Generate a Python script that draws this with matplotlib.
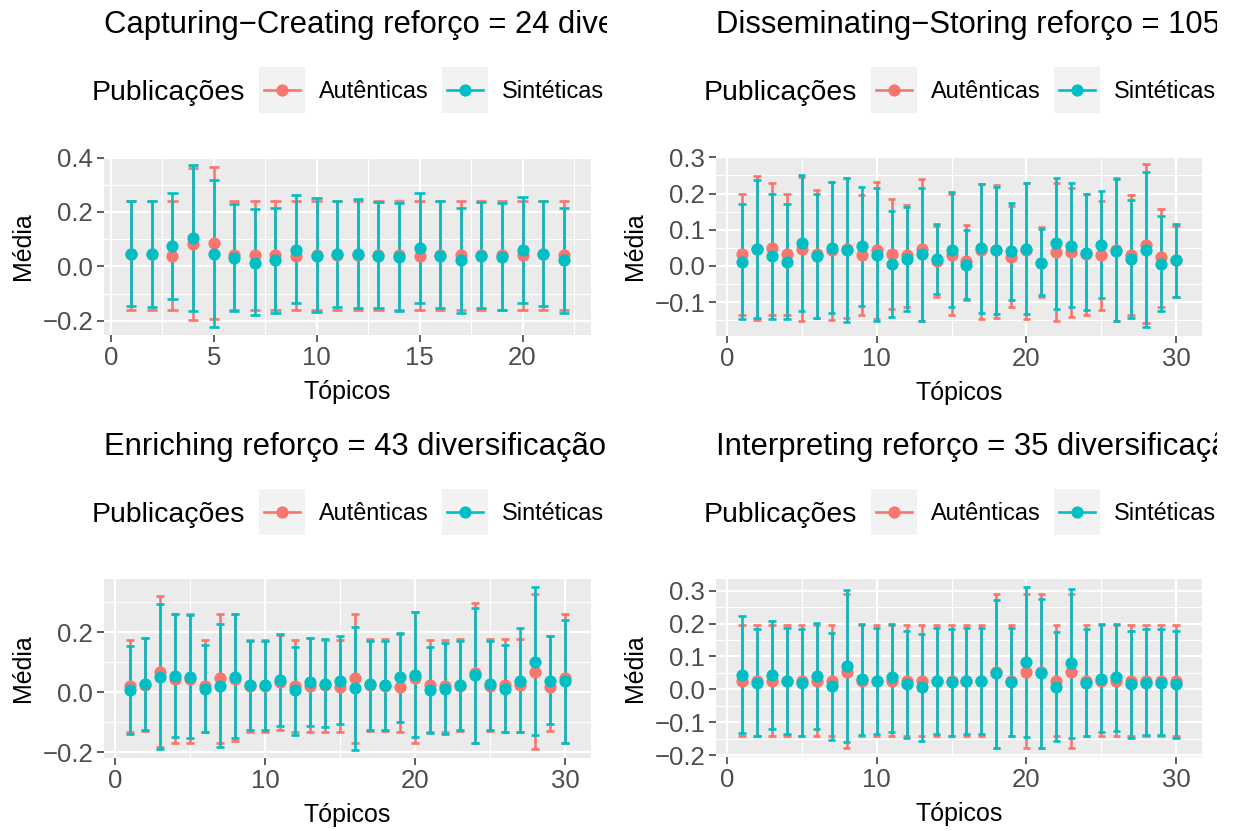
import matplotlib
matplotlib.use("Agg")
import matplotlib.pyplot as plt
from matplotlib.lines import Line2D
from matplotlib.patches import Rectangle
from matplotlib.ticker import MultipleLocator, FuncFormatter
from matplotlib.transforms import Bbox, TransformedBbox

plt.rcParams['font.family'] = ['Liberation Sans', 'DejaVu Sans']

# ---------------- data ----------------
titles = ["Capturing\u2212Creating reforço = 24 diversificação",
          "Disseminating\u2212Storing reforço = 105 diversificação",
          "Enriching reforço = 43 diversificação",
          "Interpreting reforço = 35 diversificação"]
series_names = ["Autênticas", "Sintéticas"]
legend_title = "Publicações"
x_label = "Tópicos"
y_label = "Média"

n_topics = [22, 30, 30, 30]

# Panel 1: Capturing-Creating
aut1_mean = [0.044, 0.044, 0.040, 0.082, 0.085, 0.042, 0.042, 0.042, 0.040, 0.042, 0.042,
             0.042, 0.042, 0.042, 0.040, 0.042, 0.042, 0.042, 0.042, 0.042, 0.044, 0.042]
aut1_high = [0.242, 0.242, 0.242, 0.361, 0.364, 0.242, 0.242, 0.242, 0.242, 0.242, 0.242,
             0.242, 0.242, 0.242, 0.242, 0.242, 0.242, 0.242, 0.242, 0.242, 0.242, 0.242]
aut1_low = [-0.160, -0.160, -0.160, -0.196, -0.194, -0.160, -0.160, -0.160, -0.160, -0.160, -0.160,
            -0.160, -0.160, -0.160, -0.160, -0.160, -0.160, -0.160, -0.160, -0.160, -0.160, -0.160]
sin1_mean = [0.046, 0.044, 0.074, 0.103, 0.046, 0.032, 0.013, 0.022, 0.062, 0.040, 0.044,
             0.044, 0.040, 0.034, 0.068, 0.040, 0.022, 0.040, 0.036, 0.061, 0.044, 0.022]
sin1_high = [0.242, 0.240, 0.268, 0.371, 0.316, 0.228, 0.210, 0.216, 0.261, 0.252, 0.240,
             0.246, 0.238, 0.234, 0.269, 0.240, 0.216, 0.238, 0.234, 0.255, 0.242, 0.216]
sin1_low = [-0.145, -0.150, -0.119, -0.165, -0.221, -0.162, -0.178, -0.172, -0.136, -0.166, -0.148,
            -0.154, -0.152, -0.162, -0.135, -0.152, -0.172, -0.152, -0.160, -0.136, -0.145, -0.172]

# Panel 2: Disseminating-Storing
aut2_mean = [0.033, 0.047, 0.050, 0.033, 0.047, 0.033, 0.043, 0.047, 0.029, 0.043,
             0.033, 0.029, 0.047, 0.013, 0.031, 0.013, 0.043, 0.043, 0.024, 0.043,
             0.008, 0.038, 0.038, 0.033, 0.029, 0.043, 0.029, 0.059, 0.024, 0.015]
aut2_high = [0.200, 0.248, 0.230, 0.198, 0.246, 0.209, 0.232, 0.244, 0.195, 0.231,
             0.186, 0.167, 0.239, 0.109, 0.198, 0.112, 0.226, 0.223, 0.166, 0.230,
             0.107, 0.228, 0.216, 0.198, 0.180, 0.242, 0.197, 0.281, 0.156, 0.109]
aut2_low = [-0.135, -0.150, -0.135, -0.135, -0.152, -0.143, -0.149, -0.144, -0.135, -0.147,
            -0.119, -0.115, -0.152, -0.085, -0.135, -0.094, -0.147, -0.143, -0.115, -0.147,
            -0.085, -0.152, -0.141, -0.135, -0.122, -0.152, -0.135, -0.159, -0.115, -0.085]
sin2_mean = [0.012, 0.047, 0.027, 0.012, 0.064, 0.026, 0.050, 0.044, 0.054, 0.031,
             0.006, 0.019, 0.032, 0.019, 0.045, 0.003, 0.049, 0.043, 0.040, 0.047,
             0.008, 0.062, 0.055, 0.036, 0.059, 0.041, 0.019, 0.045, 0.006, 0.015]
sin2_high = [0.172, 0.237, 0.200, 0.172, 0.252, 0.200, 0.232, 0.244, 0.219, 0.214,
             0.152, 0.163, 0.216, 0.117, 0.203, 0.098, 0.226, 0.219, 0.175, 0.228,
             0.103, 0.242, 0.228, 0.198, 0.207, 0.239, 0.181, 0.260, 0.137, 0.115]
sin2_low = [-0.147, -0.143, -0.147, -0.147, -0.126, -0.143, -0.131, -0.156, -0.112, -0.152,
            -0.141, -0.124, -0.152, -0.078, -0.113, -0.092, -0.131, -0.133, -0.094, -0.133,
            -0.082, -0.119, -0.115, -0.122, -0.090, -0.152, -0.144, -0.170, -0.126, -0.085]

# Panel 3: Enriching
aut3_mean = [0.022, 0.024, 0.069, 0.044, 0.044, 0.022, 0.047, 0.043, 0.022, 0.022,
             0.033, 0.022, 0.022, 0.024, 0.019, 0.047, 0.024, 0.022, 0.019, 0.047,
             0.024, 0.022, 0.022, 0.063, 0.022, 0.024, 0.024, 0.069, 0.019, 0.047]
aut3_high = [0.174, 0.180, 0.319, 0.261, 0.261, 0.174, 0.261, 0.261, 0.174, 0.174,
             0.191, 0.174, 0.180, 0.174, 0.174, 0.261, 0.177, 0.177, 0.195, 0.266,
             0.174, 0.174, 0.177, 0.297, 0.177, 0.177, 0.177, 0.327, 0.186, 0.261]
aut3_low = [-0.133, -0.129, -0.181, -0.168, -0.168, -0.133, -0.168, -0.164, -0.131, -0.131,
            -0.126, -0.131, -0.131, -0.131, -0.131, -0.168, -0.129, -0.129, -0.131, -0.168,
            -0.133, -0.133, -0.129, -0.170, -0.129, -0.133, -0.133, -0.190, -0.129, -0.168]
sin3_mean = [0.008, 0.027, 0.052, 0.054, 0.050, 0.012, 0.022, 0.052, 0.024, 0.023,
             0.041, 0.006, 0.033, 0.027, 0.039, 0.013, 0.026, 0.023, 0.050, 0.058,
             0.006, 0.011, 0.024, 0.058, 0.026, 0.012, 0.036, 0.102, 0.038, 0.036]
sin3_high = [0.154, 0.180, 0.293, 0.261, 0.256, 0.158, 0.228, 0.261, 0.171, 0.171,
             0.193, 0.152, 0.180, 0.177, 0.186, 0.216, 0.171, 0.171, 0.197, 0.267,
             0.152, 0.163, 0.171, 0.280, 0.171, 0.158, 0.213, 0.352, 0.186, 0.239]
sin3_low = [-0.139, -0.126, -0.190, -0.148, -0.153, -0.131, -0.181, -0.153, -0.126, -0.126,
            -0.111, -0.142, -0.111, -0.117, -0.106, -0.192, -0.126, -0.126, -0.100, -0.150,
            -0.137, -0.139, -0.126, -0.168, -0.126, -0.133, -0.133, -0.144, -0.106, -0.168]

# Panel 4: Interpreting
aut4_mean = [0.027, 0.027, 0.027, 0.027, 0.027, 0.027, 0.027, 0.054, 0.027, 0.027,
             0.027, 0.027, 0.027, 0.027, 0.027, 0.027, 0.027, 0.054, 0.027, 0.054,
             0.054, 0.027, 0.054, 0.027, 0.027, 0.027, 0.027, 0.027, 0.027, 0.027]
aut4_high = [0.195, 0.195, 0.195, 0.195, 0.195, 0.195, 0.195, 0.289, 0.195, 0.195,
             0.195, 0.195, 0.195, 0.195, 0.195, 0.195, 0.195, 0.289, 0.195, 0.289,
             0.289, 0.195, 0.289, 0.195, 0.195, 0.195, 0.195, 0.195, 0.195, 0.195]
aut4_low = [-0.140, -0.140, -0.140, -0.140, -0.140, -0.140, -0.140, -0.178, -0.140, -0.140,
            -0.140, -0.140, -0.140, -0.140, -0.140, -0.140, -0.140, -0.178, -0.140, -0.178,
            -0.178, -0.140, -0.178, -0.140, -0.140, -0.140, -0.140, -0.140, -0.140, -0.140]
sin4_mean = [0.044, 0.020, 0.044, 0.025, 0.020, 0.042, 0.009, 0.072, 0.032, 0.025,
             0.037, 0.015, 0.007, 0.025, 0.022, 0.025, 0.025, 0.049, 0.022, 0.084,
             0.050, 0.007, 0.079, 0.020, 0.032, 0.037, 0.015, 0.020, 0.020, 0.015]
sin4_high = [0.222, 0.182, 0.209, 0.187, 0.182, 0.202, 0.172, 0.302, 0.200, 0.187,
             0.200, 0.177, 0.169, 0.187, 0.182, 0.187, 0.187, 0.272, 0.187, 0.310,
             0.274, 0.174, 0.305, 0.182, 0.197, 0.199, 0.177, 0.182, 0.182, 0.177]
sin4_low = [-0.133, -0.140, -0.121, -0.136, -0.140, -0.120, -0.153, -0.158, -0.138, -0.135,
            -0.128, -0.146, -0.155, -0.136, -0.140, -0.136, -0.136, -0.178, -0.140, -0.143,
            -0.178, -0.156, -0.148, -0.140, -0.128, -0.125, -0.146, -0.138, -0.138, -0.146]

panels = [
    (aut1_mean, aut1_low, aut1_high, sin1_mean, sin1_low, sin1_high),
    (aut2_mean, aut2_low, aut2_high, sin2_mean, sin2_low, sin2_high),
    (aut3_mean, aut3_low, aut3_high, sin3_mean, sin3_low, sin3_high),
    (aut4_mean, aut4_low, aut4_high, sin4_mean, sin4_low, sin4_high),
]

# ---------------- style / layout ----------------
W, H = 1238, 831
COL_AUT = "#F8766D"
COL_SIN = "#00BFC4"
PANEL_BG = "#EBEBEB"
KEY_BG = "#F2F2F2"

# panel boxes in pixels (left, top, right, bottom)
boxes = [(104, 157, 591, 335), (716, 157, 1202, 336),
         (104, 579, 591, 758), (716, 579, 1202, 757)]
clip_right = [607, 1217, 607, 1217]
clip_left = [0, 619, 0, 619]
row_offset = [0, 0, 422, 422]
xlims = [(-0.325, 23.325), (-0.725, 31.725), (-0.725, 31.725), (-0.725, 31.725)]
ylims = [(-0.252, 0.402), (-0.194, 0.301), (-0.219, 0.377), (-0.205, 0.335)]
x_major = [5, 10, 10, 10]
y_major = [0.2, 0.1, 0.2, 0.1]

fig = plt.figure(figsize=(W / 100, H / 100), dpi=100)
fig.patch.set_facecolor("white")


def fx(x):
    return x / W


def fy(y):
    return 1 - y / H


fmt = FuncFormatter(lambda v, p: f"{round(v, 3):.1f}".replace("-", "\u2212"))

for i, (box, data) in enumerate(zip(boxes, panels)):
    L, T, R, B = box
    ax = fig.add_axes([fx(L), fy(B), (R - L) / W, (B - T) / H])
    ax.set_facecolor(PANEL_BG)
    for s in ax.spines.values():
        s.set_visible(False)
    x = list(range(1, n_topics[i] + 1))
    a_m, a_lo, a_hi, s_m, s_lo, s_hi = data
    for m, lo, hi, col in ((a_m, a_lo, a_hi, COL_AUT), (s_m, s_lo, s_hi, COL_SIN)):
        ax.vlines(x, lo, hi, color=col, lw=1.9, zorder=3)
        xl = [v - 0.25 for v in x]
        xr = [v + 0.25 for v in x]
        ax.hlines(lo, xl, xr, color=col, lw=1.9, zorder=3)
        ax.hlines(hi, xl, xr, color=col, lw=1.9, zorder=3)
        ax.plot(x, m, "o", color=col, ms=8.8, mec="none", zorder=4)

    ax.set_xlim(*xlims[i])
    ax.set_ylim(*ylims[i])
    ax.xaxis.set_major_locator(MultipleLocator(x_major[i]))
    ax.xaxis.set_minor_locator(MultipleLocator(x_major[i] / 2))
    ax.yaxis.set_major_locator(MultipleLocator(y_major[i]))
    ax.yaxis.set_minor_locator(MultipleLocator(y_major[i] / 2))
    ax.yaxis.set_major_formatter(fmt)
    ax.grid(which="major", color="white", lw=1.6)
    ax.grid(which="minor", color="white", lw=0.8)
    ax.set_axisbelow(True)
    ax.tick_params(which="major", length=4.8, width=1.1, color="#333333",
                   labelcolor="#4D4D4D", labelsize=18.5, pad=3)
    ax.tick_params(which="minor", length=0)
    ax.set_xlabel(x_label, fontsize=18, color="black", labelpad=7.5)
    ax.set_ylabel(y_label, fontsize=18, color="black", labelpad=5)

    off = row_offset[i]
    clipbox = TransformedBbox(Bbox([[fx(clip_left[i]), 0], [fx(clip_right[i]), 1]]),
                              fig.transFigure)
    # title (left aligned to panel, clipped at cell edge)
    t = fig.text(fx(L), fy(33 + off), titles[i], fontsize=22.3, ha="left",
                 va="baseline", color="black")
    t.set_clip_box(clipbox)
    t.set_clip_on(True)

    # legend (ggplot-like, top, horizontal)
    ly = 90 + off
    lt = fig.text(fx(L - 12), fy(ly + 10), legend_title, fontsize=20.4,
                  ha="left", va="baseline", color="black")
    lt.set_clip_box(clipbox)
    lt.set_clip_on(True)
    for k0, lab_x, col, name in ((155, 215, COL_AUT, series_names[0]),
                                 (338, 398, COL_SIN, series_names[1])):
        fig.add_artist(Rectangle((fx(L + k0), fy(ly + 23)), 46 / W, 46 / H,
                                 transform=fig.transFigure, facecolor=KEY_BG,
                                 edgecolor="none"))
        fig.add_artist(Line2D([fx(L + k0 + 5), fx(L + k0 + 41)], [fy(ly), fy(ly)],
                              transform=fig.transFigure, color=col, lw=1.9))
        fig.add_artist(Line2D([fx(L + k0 + 23)], [fy(ly)], transform=fig.transFigure,
                              color=col, marker="o", ms=8.8, mec="none"))
        lb = fig.text(fx(L + lab_x), fy(ly + 8), name, fontsize=16.9, ha="left",
                      va="baseline", color="black")
        lb.set_clip_box(clipbox)
        lb.set_clip_on(True)

fig.savefig("out.png", dpi=100, facecolor="white")
